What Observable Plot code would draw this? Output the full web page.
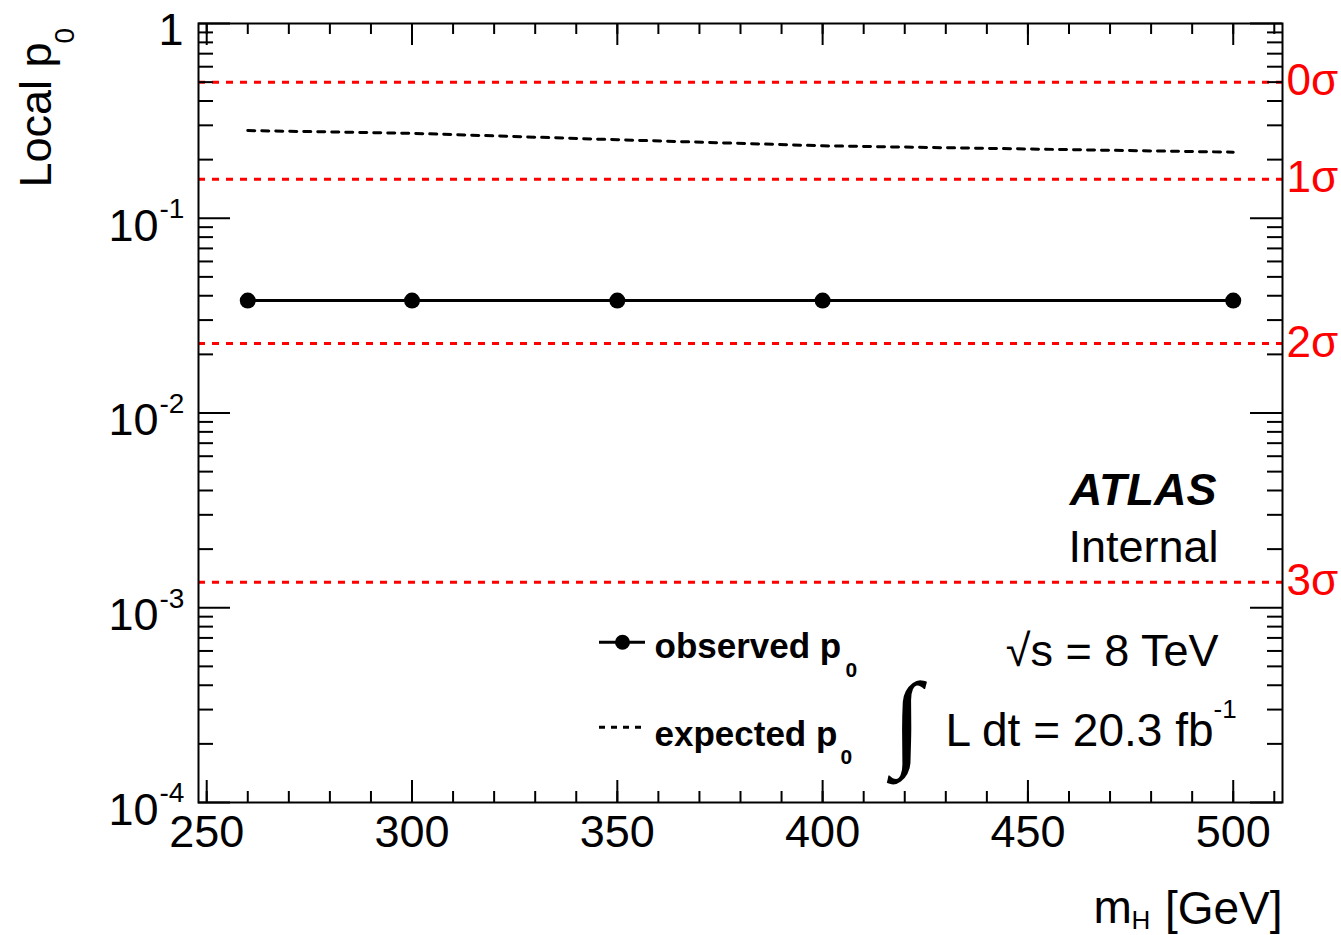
<!DOCTYPE html>
<html>
<head>
<meta charset="utf-8">
<script src="https://cdn.jsdelivr.net/npm/d3@7"></script>
<script src="https://cdn.jsdelivr.net/npm/@observablehq/plot@0.6"></script>
<style>
  html, body { margin: 0; padding: 0; background: #fff; }
</style>
</head>
<body>
<div id="chart"></div>
<script>
// ---- data ----
const massGeV = [260, 300, 350, 400, 500];
const observedP0 = [0.0378, 0.0378, 0.0378, 0.0378, 0.0378];
const expectedP0 = [0.282, 0.273, 0.253, 0.2355, 0.2184];

const sigmaP = [0.5, 0.1587, 0.02275, 0.00135];
const sigmaLabels = ["0σ", "1σ", "2σ", "3σ"];

const xMajorTicks = [250, 300, 350, 400, 450, 500];
const xMinorTicks = d3.range(250, 511, 10);
const yDecadeTicks = [1e-4, 1e-3, 1e-2, 1e-1];
const yDecadeExponents = ["-4", "-3", "-2", "-1"];
const yTopTick = [1];
const yMinorTicks = [-4, -3, -2, -1].flatMap(e => d3.range(2, 10).map(k => k * 10 ** e));

// ---- layout ----
const W = 1341, H = 935, mL = 198, mR = 59, mT = 23, mB = 133;
const fw = W - mL - mR, fh = H - mT - mB;
const py2y = py => 10 ** (-4 * (py - mT) / fh);

const rows = massGeV.map((m, i) => ({m, obs: observedP0[i], exp: expectedP0[i]}));

const label = (txt, px, py, o = {}) => Plot.text([txt], {
  text: d => d, frameAnchor: "top-left", dx: px - mL, dy: py - mT,
  lineAnchor: "bottom", textAnchor: "start", fontSize: 45, fill: "black", ...o
});

const chart = Plot.plot({
  width: W, height: H,
  marginLeft: mL, marginRight: mR, marginTop: mT, marginBottom: mB,
  style: {fontFamily: "'Liberation Sans', Arial, Helvetica, sans-serif", background: "white", color: "black"},
  x: {domain: [248, 512], axis: null},
  y: {type: "log", domain: [1e-4, 1], axis: null},
  marks: [
    // sigma reference lines
    Plot.ruleY(sigmaP, {y: d => d, stroke: "#ff0000", strokeWidth: 3, strokeDasharray: "7,7"}),
    // expected
    Plot.line(rows, {x: "m", y: "exp", stroke: "black", strokeWidth: 3, strokeDasharray: "7,7"}),
    // observed
    Plot.line(rows, {x: "m", y: "obs", stroke: "black", strokeWidth: 3}),
    Plot.dot(rows, {x: "m", y: "obs", r: 8, fill: "black"}),

    // y ticks left and right
    Plot.tickY(yDecadeTicks.concat(yTopTick), {y: d => d, stroke: "black", strokeWidth: 2, insetRight: fw - 32}),
    Plot.tickY(yMinorTicks, {y: d => d, stroke: "black", strokeWidth: 2, insetRight: fw - 15}),
    Plot.tickY(yDecadeTicks.concat(yTopTick), {y: d => d, stroke: "black", strokeWidth: 2, insetLeft: fw - 32}),
    Plot.tickY(yMinorTicks, {y: d => d, stroke: "black", strokeWidth: 2, insetLeft: fw - 15}),
    // x ticks bottom and top
    Plot.tickX(xMajorTicks, {x: d => d, stroke: "black", strokeWidth: 2, insetTop: fh - 22}),
    Plot.tickX(xMinorTicks, {x: d => d, stroke: "black", strokeWidth: 2, insetTop: fh - 11}),
    Plot.tickX(xMajorTicks, {x: d => d, stroke: "black", strokeWidth: 2, insetBottom: fh - 22}),
    Plot.tickX(xMinorTicks, {x: d => d, stroke: "black", strokeWidth: 2, insetBottom: fh - 11}),
    Plot.frame({stroke: "black", strokeWidth: 2}),

    // y tick labels
    Plot.text(yDecadeTicks, {y: d => d, text: () => "10", frameAnchor: "left", textAnchor: "end", lineAnchor: "middle", dx: -40, dy: 8, fontSize: 45}),
    Plot.text(yDecadeTicks, {y: d => d, text: (d, i) => yDecadeExponents[i], frameAnchor: "left", textAnchor: "start", lineAnchor: "middle", dx: -39, dy: -9, fontSize: 28}),
    Plot.text(yTopTick, {y: d => d, text: () => "1", frameAnchor: "left", textAnchor: "end", lineAnchor: "middle", dx: -15, dy: 7, fontSize: 45}),
    // x tick labels
    Plot.text(xMajorTicks, {x: d => d, text: d => String(d), frameAnchor: "bottom", textAnchor: "middle", lineAnchor: "top", dy: 13, fontSize: 45}),
    // sigma labels
    Plot.text(sigmaP, {y: d => d, text: (d, i) => sigmaLabels[i], frameAnchor: "right", textAnchor: "start", lineAnchor: "middle", dx: 4, dy: -1, fontSize: 44, fill: "#ff0000"}),

    // axis titles
    Plot.text(["Local p"], {text: d => d, frameAnchor: "top-left", dx: 50 - mL, dy: 187 - mT, rotate: -90, textAnchor: "start", lineAnchor: "bottom", fontSize: 45}),
    Plot.text(["0"], {text: d => d, frameAnchor: "top-left", dx: 73 - mL, dy: 43 - mT, rotate: -90, textAnchor: "start", lineAnchor: "bottom", fontSize: 28}),
    label("m", 1093, 922, {fontSize: 46}),
    label("H", 1131, 928, {fontSize: 26}),
    label("[GeV]", 1282, 923, {fontSize: 46, textAnchor: "end"}),

    // ATLAS label
    label("ATLAS", 1216, 504, {textAnchor: "end", fontWeight: "bold", fontStyle: "italic"}),
    label("Internal", 1218, 561, {textAnchor: "end"}),
    label("√s = 8 TeV", 1218, 665, {textAnchor: "end"}),
    label("∫", 892, 755, {fontSize: 106, fontFamily: "'Liberation Serif', 'DejaVu Serif', serif"}),
    label("L dt = 20.3 fb", 1213, 745, {fontSize: 46, textAnchor: "end"}),
    label("-1", 1213, 717, {fontSize: 26}),

    // legend
    Plot.ruleY([py2y(641.7)], {y: d => d, stroke: "black", strokeWidth: 3, insetLeft: 599 - mL, insetRight: (W - mR) - 645}),
    Plot.dot([0], {frameAnchor: "top-left", dx: 622 - mL, dy: 641.7 - mT, r: 7.5, fill: "black"}),
    Plot.ruleY([py2y(726.7)], {y: d => d, stroke: "black", strokeWidth: 3, strokeDasharray: "6,6", insetLeft: 599 - mL, insetRight: (W - mR) - 645}),
    label("observed p", 654, 657, {fontSize: 35, fontWeight: "bold"}),
    label("0", 845, 676, {fontSize: 21, fontWeight: "bold"}),
    label("expected p", 654, 745, {fontSize: 35, fontWeight: "bold"}),
    label("0", 840, 763, {fontSize: 21, fontWeight: "bold"})
  ]
});
document.getElementById("chart").append(chart);
</script>
</body>
</html>
